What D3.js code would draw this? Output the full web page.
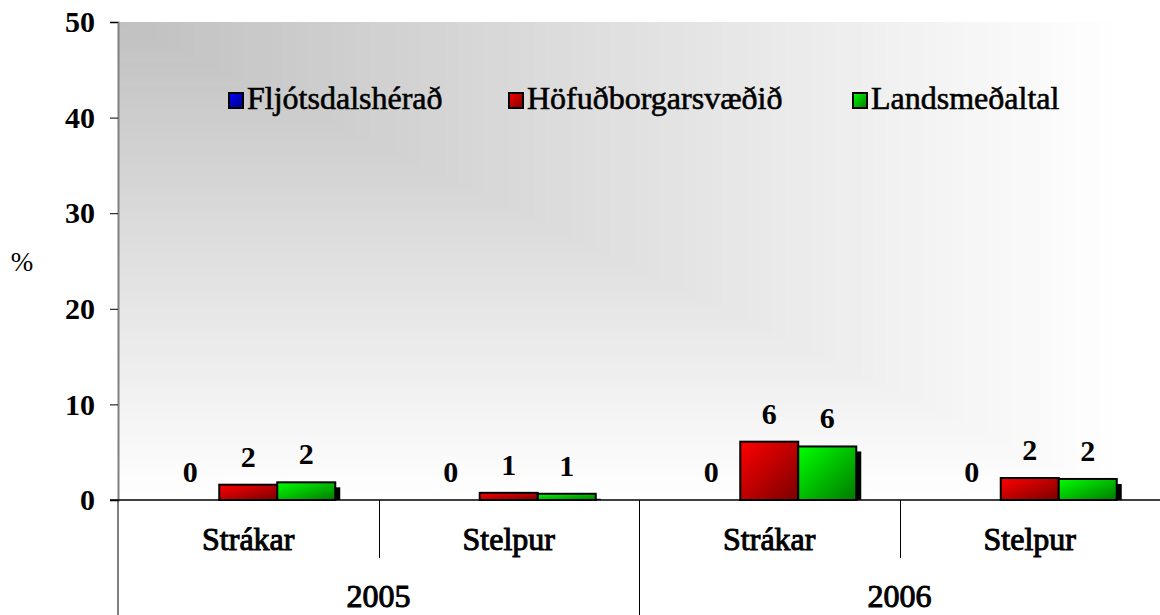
<!DOCTYPE html>
<html>
<head>
<meta charset="utf-8">
<script src="https://cdn.jsdelivr.net/npm/d3@7"></script>
<style>
  html, body { margin: 0; padding: 0; background: #fff; }
  svg { display: block; font-family: "Liberation Serif", "Times New Roman", serif; }
</style>
</head>
<body>
<svg id="chart" width="1160" height="615"></svg>
<script>
// ---- data ----
const years = ["2005", "2006"];
const groups = ["Strákar", "Stelpur"];
const series = ["Fljótsdalshérað", "Höfuðborgarsvæðið", "Landsmeðaltal"];
// values per (year, group) in order: 2005 Strákar, 2005 Stelpur, 2006 Strákar, 2006 Stelpur
const fljotsdalsherad = [0, 0, 0, 0];
const hofudborgarsvaedid = [1.6, 0.75, 6.1, 2.3];
const landsmedaltal = [1.85, 0.65, 5.6, 2.2];
const yTicks = [0, 10, 20, 30, 40, 50];
const colors = {
  "Fljótsdalshérað": ["#0000ff", "#000080"],
  "Höfuðborgarsvæðið": ["#ff0000", "#7a0000"],
  "Landsmeðaltal": ["#00ff00", "#007a00"]
};

// ---- layout ----
const mLeft = 118, mRight = 1160, mTop = 22, mBottom = 500, bgRight = 1126;
const svg = d3.select("#chart");
const defs = svg.append("defs");

const cats = [];
years.forEach(yr => groups.forEach(g => cats.push(yr + "|" + g)));
const valuesBySeries = [fljotsdalsherad, hofudborgarsvaedid, landsmedaltal];

const x0 = d3.scaleBand().domain(cats).range([mLeft, mRight]).paddingInner(0).paddingOuter(0);
const xYear = d3.scaleBand().domain(years).range([mLeft, mRight]);
const x1 = d3.scaleBand().domain(series).range([-87, 87]);
const y = d3.scaleLinear().domain([0, 50]).range([mBottom, mTop]);

// background: "from corner" gradient (rectangular iso-lines from top-left)
const bgW = bgRight - mLeft, bgH = mBottom - mTop;
const bgColor = d3.scaleLinear().domain([0, 1]).range(["#c0c0c0", "#ffffff"]);
const steps = d3.range(80, -1, -1).map(i => i / 80);
svg.append("g").selectAll("rect").data(steps).join("rect")
  .attr("x", mLeft).attr("y", mTop)
  .attr("width", t => Math.max(0.5, bgW * t)).attr("height", t => Math.max(0.5, bgH * t))
  .attr("fill", t => bgColor(t));

// bar gradients
series.forEach((s, i) => {
  const g = defs.append("linearGradient").attr("id", "g" + i)
    .attr("x1", 0).attr("y1", 0).attr("x2", 1).attr("y2", 1);
  g.append("stop").attr("offset", 0).attr("stop-color", colors[s][0]);
  g.append("stop").attr("offset", 1).attr("stop-color", colors[s][1]);
});

// y axis
const yAxis = svg.append("g").attr("transform", `translate(${mLeft},0)`)
  .call(d3.axisLeft(y).tickValues(yTicks).tickSize(8).tickPadding(15).tickFormat(d3.format("d")));
yAxis.select(".domain").attr("stroke", "#808080").attr("stroke-width", 2);
yAxis.selectAll(".tick line").attr("stroke", "#000").attr("stroke-width", 1);
yAxis.selectAll(".tick text")
  .attr("font-family", "Liberation Serif, serif").attr("font-size", 30).attr("font-weight", "bold")
  .attr("fill", "#000");

// % label
svg.append("text").attr("x", 22).attr("y", 271).attr("text-anchor", "middle")
  .attr("font-size", 27).text("%");

// bars
const flat = [];
cats.forEach((c, ci) => series.forEach((s, si) => flat.push({ c, s, si, v: valuesBySeries[si][ci] })));

const barG = svg.append("g");
flat.forEach(d => {
  const cx = x0(d.c) + x0.bandwidth() / 2;
  const bx = cx + x1(d.s);
  const by = y(d.v);
  const h = mBottom - by;
  if (h > 0.5) {
    barG.append("rect").attr("x", bx + 5).attr("y", Math.min(by + 5, mBottom))
      .attr("width", x1.bandwidth()).attr("height", Math.max(0, mBottom - (by + 5)))
      .attr("fill", "#000");
  }
});
flat.forEach(d => {
  const cx = x0(d.c) + x0.bandwidth() / 2;
  const bx = cx + x1(d.s);
  const by = y(d.v);
  const h = mBottom - by;
  if (h > 0.5) {
    barG.append("rect").attr("x", bx).attr("y", by)
      .attr("width", x1.bandwidth()).attr("height", h)
      .attr("fill", `url(#g${d.si})`).attr("stroke", "#000").attr("stroke-width", 2);
  }
  barG.append("text").attr("x", bx + x1.bandwidth() / 2).attr("y", by - 18)
    .attr("text-anchor", "middle").attr("font-size", 30).attr("font-weight", "bold")
    .text(d3.format(".0f")(d.v));
});

// x axis line & separators
svg.append("line").attr("x1", mLeft - 8).attr("x2", mRight).attr("y1", mBottom).attr("y2", mBottom)
  .attr("stroke", "#000").attr("stroke-width", 1.5);
svg.append("line").attr("x1", mLeft).attr("x2", mLeft).attr("y1", mBottom).attr("y2", 615)
  .attr("stroke", "#000").attr("stroke-width", 1);
cats.forEach((c, i) => {
  if (i === 0) return;
  const xx = Math.round(x0(c)) + 0.5;
  const isYear = groups.indexOf(c.split("|")[1]) === 0;
  svg.append("line").attr("x1", xx).attr("x2", xx).attr("y1", mBottom)
    .attr("y2", isYear ? 615 : 558).attr("stroke", "#000").attr("stroke-width", 1);
});

// category labels
cats.forEach(c => {
  svg.append("text").attr("x", x0(c) + x0.bandwidth() / 2).attr("y", 550)
    .attr("text-anchor", "middle").attr("font-size", 32)
    .attr("stroke", "#000").attr("stroke-width", 1)
    .text(c.split("|")[1]);
});
years.forEach(yr => {
  svg.append("text").attr("x", xYear(yr) + xYear.bandwidth() / 2).attr("y", 607)
    .attr("text-anchor", "middle").attr("font-size", 32)
    .attr("stroke", "#000").attr("stroke-width", 1)
    .text(yr);
});

// legend
const legendX = [229, 509, 853];
series.forEach((s, i) => {
  const g = svg.append("g").attr("transform", `translate(${legendX[i]},93)`);
  g.append("rect").attr("x", 0).attr("y", 0).attr("width", 14).attr("height", 15)
    .attr("fill", `url(#g${i})`).attr("stroke", "#000").attr("stroke-width", 2);
  g.append("text").attr("x", 18).attr("y", 16).attr("font-size", 32)
    .attr("stroke", "#000").attr("stroke-width", 0.6).text(s);
});
</script>
</body>
</html>
